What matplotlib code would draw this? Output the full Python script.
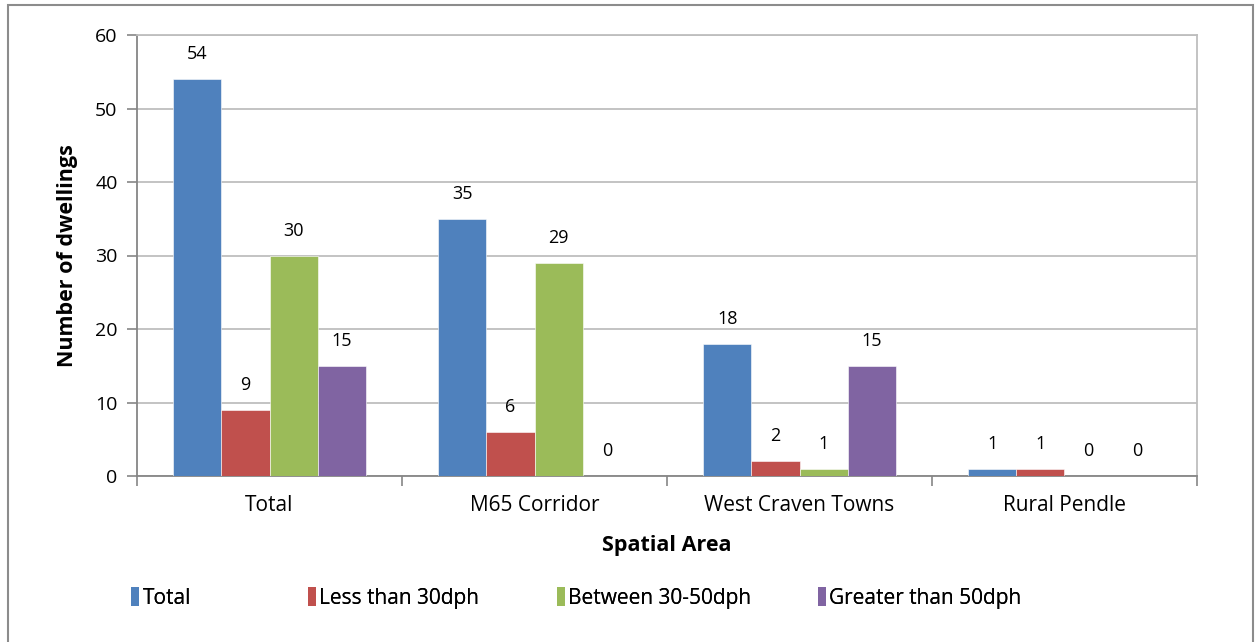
import matplotlib
matplotlib.use("Agg")
import matplotlib.pyplot as plt
import numpy as np
from matplotlib.patches import Rectangle, Patch

plt.rcParams['font.family'] = ['Open Sans', 'DejaVu Sans']

areas = ["Total", "M65 Corridor", "West Craven Towns", "Rural Pendle"]
series_names = ["Total", "Less than 30dph", "Between 30-50dph", "Greater than 50dph"]
total = [54, 35, 18, 1]
less_30 = [9, 6, 2, 1]
between_30_50 = [30, 29, 1, 0]
greater_50 = [15, 0, 15, 0]
y_ticks = [0, 10, 20, 30, 40, 50, 60]

colors = ["#4F81BD", "#C0504D", "#9BBB59", "#8064A2"]
series = [total, less_30, between_30_50, greater_50]

W, H = 1257, 642
fig = plt.figure(figsize=(W / 100, H / 100), dpi=100)

# outer chart border
fig.add_artist(Rectangle((8 / W, -0.05), (1253 - 8) / W, 1.05 - 5 / H,
                         transform=fig.transFigure, fill=False,
                         edgecolor="#8C8C8C", linewidth=1.5))

ax = fig.add_axes([137 / W, (H - 476) / H, (1197 - 137) / W, (476 - 35) / H])

x = np.arange(len(areas))
bw = 0.182
for i, (vals, col) in enumerate(zip(series, colors)):
    offs = (i - 1.5) * bw
    ax.bar(x + offs, vals, width=bw, color=col, edgecolor="white",
           linewidth=0.4, zorder=3)
    for xi, v in zip(x + offs, vals):
        ax.annotate(str(v), (xi, v), xytext=(0, 18), textcoords="offset points",
                    ha="center", va="center", fontsize=13, color="black")

ax.set_xlim(-0.5, len(areas) - 0.5)
ax.set_ylim(0, 60)
ax.set_yticks(y_ticks)
ax.set_yticklabels([str(t) for t in y_ticks], fontsize=14)
ax.yaxis.grid(True, color="#BEBEBE", linewidth=1.3, zorder=0)
ax.set_axisbelow(True)

ax.set_xticks(x)
ax.set_xticklabels(areas, fontsize=15)
ax.tick_params(axis="x", length=0, pad=14)
ax.set_xticks(np.arange(len(areas) + 1) - 0.5, minor=True)
ax.tick_params(axis="x", which="minor", length=7, color="#868686", width=1.2)
ax.tick_params(axis="y", length=7, color="#868686", width=1.2, pad=7)

for side in ["left", "bottom"]:
    ax.spines[side].set_color("#868686")
    ax.spines[side].set_linewidth(1.3)
for side in ["top", "right"]:
    ax.spines[side].set_color("#BEBEBE")
    ax.spines[side].set_linewidth(1.3)

ax.set_ylabel("Number of dwellings", fontsize=15.5, fontweight="bold", va="center")
ax.yaxis.set_label_coords((67 - 137) / 1060, 0.5)
ax.set_xlabel("Spatial Area", fontsize=15.5, fontweight="bold", va="center")
ax.xaxis.set_label_coords(0.5, (476 - 546) / 441)

# legend entries laid out along the bottom
leg_x = [131, 308, 557, 818]
for name, col, lx in zip(series_names, colors, leg_x):
    h = Patch(facecolor=col, edgecolor="none")
    lg = fig.legend(handles=[h], labels=[name], loc="center left",
                    bbox_to_anchor=(lx / W, (H - 598) / H), frameon=False,
                    fontsize=15, handlelength=0.4, handleheight=1.0,
                    handletextpad=0.15, borderpad=0, borderaxespad=0)
    fig.add_artist(lg)

fig.savefig("out.png", dpi=100)
